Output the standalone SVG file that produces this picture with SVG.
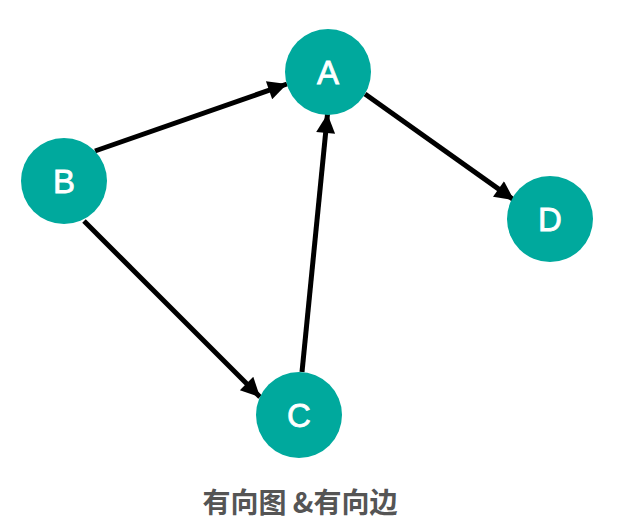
<svg xmlns="http://www.w3.org/2000/svg" width="642" height="524" viewBox="0 0 642 524">
<defs>
<style>
.node{fill:#00a99d}
.lbl{fill:#fff;stroke:#fff;stroke-width:0.8;font-family:"Liberation Sans",Arial,sans-serif;font-size:33px;text-anchor:middle;dominant-baseline:central}
.edge{stroke:#000;stroke-width:5;fill:none}
.cap{fill:#555;font-family:"Noto Sans CJK SC","Noto Sans",sans-serif;font-size:28px;font-weight:bold;text-anchor:middle}
</style>
<marker id="arr" viewBox="0 0 10 10" refX="10" refY="5" markerWidth="4.3" markerHeight="3.8" markerUnits="strokeWidth" orient="auto">
<path d="M0,0 L10,5 L0,10 z" fill="#000"/>
</marker>
</defs>
<rect width="642" height="524" fill="#fff"/>
<g id="connectors">
<line class="edge" x1="95" y1="151" x2="287" y2="84" marker-end="url(#arr)"/>
<line class="edge" x1="365" y1="94" x2="514" y2="200" marker-end="url(#arr)"/>
<line class="edge" x1="302" y1="372" x2="327.5" y2="114" marker-end="url(#arr)"/>
<line class="edge" x1="84" y1="221" x2="260" y2="397" marker-end="url(#arr)"/>
</g>
<g id="node-A"><circle class="node" cx="328" cy="72" r="43"/><text class="lbl" x="328" y="72">A</text></g>
<g id="node-B"><circle class="node" cx="64" cy="181" r="43"/><text class="lbl" x="64" y="181">B</text></g>
<g id="node-C"><circle class="node" cx="299" cy="415" r="43"/><text class="lbl" x="299" y="415">C</text></g>
<g id="node-D"><circle class="node" cx="550" cy="219" r="43"/><text class="lbl" x="550" y="219">D</text></g>
<text class="cap" x="300" y="513">有向图 &amp;有向边</text>
</svg>
